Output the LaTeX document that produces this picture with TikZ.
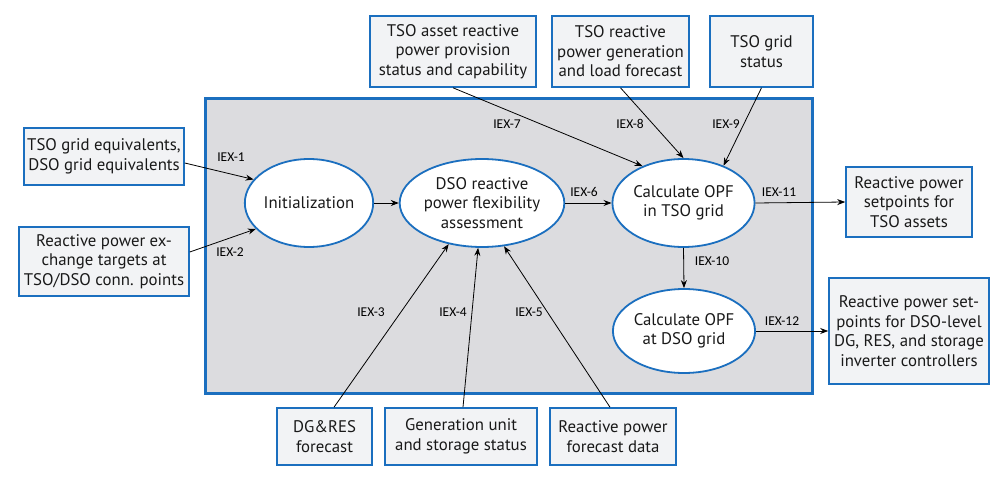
\documentclass[tikz,border=0pt]{standalone}
\usepackage{fontspec}
\setmainfont{PT Sans}
\newfontfamily\lblfont{Carlito}
\usetikzlibrary{shapes.geometric,arrows.meta,calc}
\definecolor{bblue}{HTML}{1B6FBF}
\definecolor{bfill}{HTML}{F2F3F5}
\definecolor{mfill}{HTML}{DCDCDF}
\begin{document}
\begin{tikzpicture}[x=1pt,y=-1pt,
  txt/.style={font=\fontsize{16.8}{19.5}\selectfont, align=center, text=black!90},
  ibox/.style={txt, draw=bblue, line width=1.6pt, fill=bfill, inner sep=0pt},
  proc/.style={txt, ellipse, draw=bblue, line width=1.8pt, fill=white, inner sep=0pt},
  arr/.style={-{Stealth[length=8pt,width=6pt]}, line width=0.8pt, black},
  lbl/.style={font=\lblfont\fontsize{13.5}{15}\selectfont, text=black, inner sep=0pt}]
\useasboundingbox (0,0) rectangle (1000,478);
\node[draw=bblue, line width=3.5pt, fill=mfill, minimum width=607pt, minimum height=295pt, inner sep=0pt] (main) at (509,246) {};
% input/output boxes
\node[ibox, minimum width=160pt, minimum height=57pt] (b1) at (104,156.5) {TSO grid equivalents,\\DSO grid equivalents};
\node[ibox, minimum width=170pt, minimum height=69pt] (b2) at (104,261.5) {Reactive power ex-\\change targets at\\TSO/DSO conn. points};
\node[ibox, minimum width=166pt, minimum height=71pt] (t1) at (453,51.5) {TSO asset reactive\\power provision\\status and capability};
\node[ibox, minimum width=137pt, minimum height=71pt] (t2) at (620.5,51.5) {TSO reactive\\power generation\\and load forecast};
\node[ibox, minimum width=103pt, minimum height=71pt] (t3) at (761.5,51.5) {TSO grid\\status};
\node[ibox, minimum width=126pt, minimum height=70pt] (r1) at (909,202) {Reactive power\\setpoints for\\TSO assets};
\node[ibox, minimum width=160pt, minimum height=106pt] (r2) at (909,331) {Reactive power set-\\points for DSO-level\\DG, RES, and storage\\inverter controllers};
\node[ibox, minimum width=95pt, minimum height=57pt] (d1) at (324.5,436.5) {DG\&RES\\forecast};
\node[ibox, minimum width=152pt, minimum height=57pt] (d2) at (461,436.5) {Generation unit\\and storage status};
\node[ibox, minimum width=126pt, minimum height=57pt] (d3) at (613,436.5) {Reactive power\\forecast data};
% processes
\node[proc, minimum width=126pt, minimum height=88pt] (init) at (309,203) {Initialization};
\node[proc, minimum width=137pt, minimum height=88pt] (dso) at (482,203) {DSO reactive\\power flexibility\\assessment};
\node[proc, minimum width=137pt, minimum height=88pt] (opf1) at (683.5,203) {Calculate OPF\\in TSO grid};
\node[proc, minimum width=138pt, minimum height=84pt] (opf2) at (684,331) {Calculate OPF\\at DSO grid};
% connectors
\draw[arr] ([yshift=-6.5pt]b1.east) -- (init.157);
\draw[arr] ([yshift=9.5pt]b2.east) -- (init.206);
\draw[arr] (init.east) -- (dso.west);
\draw[arr] (dso.east) -- (opf1.west);
\draw[arr] (t1.south) -- (opf1.138);
\draw[arr] (t2.south) -- (opf1.north);
\draw[arr] (t3.south) -- (opf1.43);
\draw[arr] (opf1.east) -- (r1.west);
\draw[arr] (opf1.south) -- (opf2.north);
\draw[arr] (opf2.east) -- (r2.west);
\draw[arr] ([xshift=9.5pt]d1.north) -- (dso.231);
\draw[arr] ([xshift=2pt]d2.north) -- (dso.265);
\draw[arr] ([xshift=-3pt]d3.north) -- (dso.297);
% labels
\node[lbl] (l1) at (231,157) {IEX-1};
\node[lbl] (l2) at (230,252) {IEX-2};
\node[lbl] (l3) at (371,312) {IEX-3};
\node[lbl] (l4) at (453,312) {IEX-4};
\node[lbl] (l5) at (529,312) {IEX-5};
\node[lbl] (l6) at (584,192) {IEX-6};
\node[lbl] (l7) at (507,124) {IEX-7};
\node[lbl] (l8) at (630,124) {IEX-8};
\node[lbl] (l9) at (726,124) {IEX-9};
\node[lbl] (l10) at (712,261) {IEX-10};
\node[lbl] (l11) at (779,192) {IEX-11};
\node[lbl] (l12) at (782,321) {IEX-12};
\end{tikzpicture}
\end{document}
